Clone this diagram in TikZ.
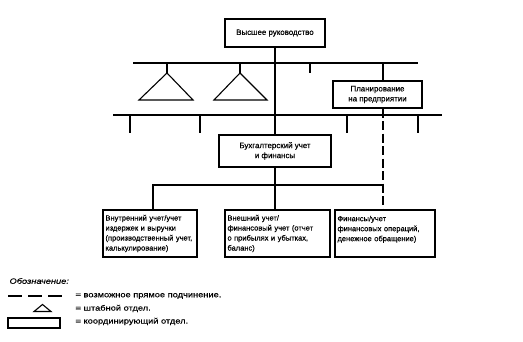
\documentclass[tikz,border=0pt]{standalone}
\usepackage{fontspec}
\setmainfont{Liberation Sans}[FakeBold=0.5]
\newfontfamily\legendfont[FakeStretch=1.22,FakeBold=0.5]{Liberation Sans}
\begin{document}
\begin{tikzpicture}[x=1pt,y=-1pt,line width=1.1pt,
  box/.style={draw,line width=1.2pt,inner sep=0pt,font=\fontsize{7.9}{10}\selectfont,align=center},
  lowbox/.style={draw,line width=1.2pt,inner xsep=2.5pt,inner ysep=0pt,minimum height=47pt,
    font=\fontsize{7.5}{10}\selectfont,align=left},
  legtext/.style={anchor=west,inner sep=0pt,font=\legendfont\fontsize{7.6}{9}\selectfont},
  poss/.style={dash pattern=on 9pt off 3.5pt}]
\useasboundingbox (0,0) rectangle (523,342);
% boxes
\node[box,minimum width=100pt,minimum height=28pt] (top) at (275,33) {Высшее руководство};
\node[box,minimum width=89pt,minimum height=27pt] (plan) at (377.5,94.5) {Планирование\\на предприятии};
\node[box,minimum width=112pt,minimum height=32pt] (buh) at (275,151) {Бухгалтерский учет\\и финансы};
\node[lowbox,text width=89pt] (b1) at (150,233.5) {Внутренний учет/учет\\издержек и выручки\\(производственный учет,\\калькулирование)};
\node[lowbox,text width=100pt] (b2) at (277.5,233.5) {Внешний учет/\\финансовый учет (отчет\\о прибылях и убытках,\\баланс)};
\node[lowbox,text width=95pt] (b3) at (385,233.5) {Финансы/учет\\финансовых операций,\\денежное обращение)\\\mbox{}};
% buses
\coordinate (u1) at (133,63); \coordinate (u2) at (418,63);
\coordinate (l1) at (113,115); \coordinate (l2) at (442,115);
\draw (u1) -- (u2);
\draw (l1) -- (l2);
\draw (top.south) -- (buh.north);
% staff triangles
\coordinate (ta) at (167,73); \coordinate (tb) at (240,73);
\draw (ta |- u1) -- (ta);
\draw (ta) -- (139,100) -- (193,100) -- cycle;
\draw (tb |- u1) -- (tb);
\draw (tb) -- (214,100) -- (267,100) -- cycle;
\coordinate (tk) at (310,73);
\draw (tk |- u1) -- (tk);
% planning
\coordinate (dx) at (383,0);
\draw (u1 -| dx) -- (plan.north -| dx);
\draw[poss] (plan.south -| dx) -- (b3.north -| dx);
% ticks below lower bus
\foreach \x in {130,200,347,418}{
  \coordinate (k\x) at (\x,133);
  \draw (k\x |- l1) -- (k\x);
}
% lower tree
\coordinate (j1) at (153,185); \coordinate (j2) at (383,185);
\draw (b1.north -| j1) -- (j1) -- (j2);
\draw (buh.south) -- (buh.south |- b2.north);
% legend
\node[anchor=west,inner sep=0pt,font=\legendfont\itshape\fontsize{7.6}{9}\selectfont] (lg) at (9,281) {Обозначение:};
\coordinate (d1) at (8,296); \coordinate (d2) at (65,296);
\draw[dash pattern=on 14pt off 6pt] (d1) -- (d2);
\node[legtext] (lt1) at (75,296) {= возможное прямое подчинение.};
\coordinate (la) at (42.5,304.5);
\draw (la) -- (34,311.5) -- (51,311.5) -- cycle;
\node[legtext] (lt2) at (75,308.5) {= штабной отдел.};
\node[draw,line width=1.2pt,minimum width=52pt,minimum height=10pt,inner sep=0pt] (lr) at (34,323) {};
\node[legtext] (lt3) at (75,321.5) {= координирующий отдел.};
\end{tikzpicture}
\end{document}
